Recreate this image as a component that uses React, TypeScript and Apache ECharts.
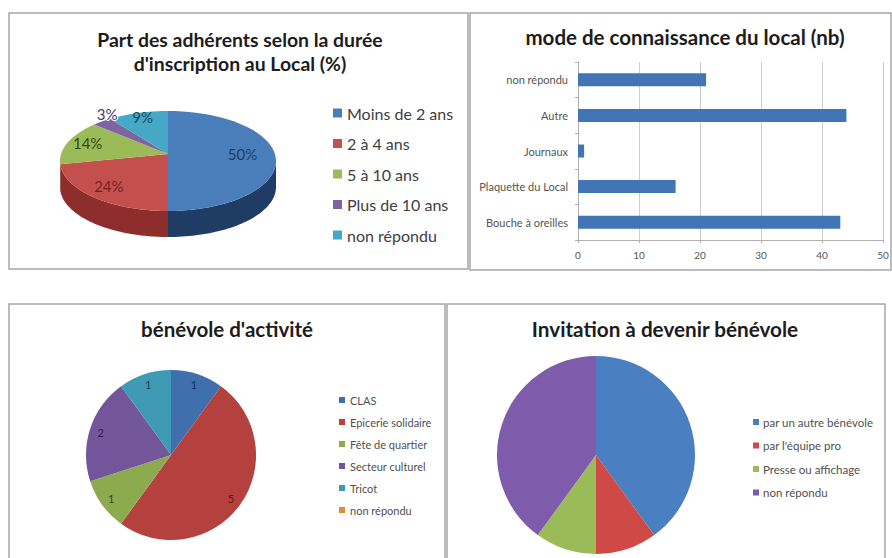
import React, { useEffect, useRef } from "react";
import * as echarts from "echarts";

const FONT = "Lato";

// Chart 1: 3D pie
const dureeTitle = "Part des adhérents selon la durée\nd'inscription au Local (%)";
const dureeNames = ["Moins de 2 ans", "2 à 4 ans", "5 à 10 ans", "Plus de 10 ans", "non répondu"];
const dureeValues = [50, 24, 14, 3, 9];
const dureeTop = ["#4a7ebb", "#c4504d", "#9bbb59", "#8064a2", "#45a8c6"];
const dureeSide = ["#1f3c64", "#8e2e2c", "#6f8a3a", "#553f74", "#2b7288"];
const dureeText = ["#1f3c64", "#7a1f1c", "#2f4a10", "#4b3570", "#14505f"];

// Chart 2: bars
const modeTitle = "mode de connaissance du local (nb)";
const modeCategories = ["Bouche à oreilles", "Plaquette du Local", "Journaux", "Autre", "non répondu"];
const modeValues = [43, 16, 1, 44, 21];

// Chart 3: pie
const activiteTitle = "bénévole d'activité";
const activiteNames = ["CLAS", "Epicerie solidaire", "Fête de quartier", "Secteur culturel", "Tricot", "non répondu"];
const activiteValues = [1, 5, 1, 2, 1, 0];
const activiteColors = ["#3f70ad", "#b5413e", "#8cab4f", "#72559a", "#3f9ab5", "#e08a3c"];
const activiteText = ["#12305a", "#5c1513", "#33480f", "#2f1c52", "#0f4352", "#7a4310"];

// Chart 4: pie
const invitationTitle = "Invitation à devenir bénévole";
const invitationNames = ["par un autre bénévole", "par l'équipe pro", "Presse ou affichage", "non répondu"];
const invitationValues = [4, 1, 1, 4];
const invitationColors = ["#4a7fc1", "#cf4a46", "#9bbb59", "#7f5bab"];

function legendFor(names: string[], colors: string[], left: number, top: number, size: number, gap: number, pad: number, color: string) {
  return {
    left, top, orient: "vertical", padding: 0, icon: "rect",
    itemWidth: size > 12 ? 9 : 6, itemHeight: size > 12 ? 9 : 6,
    itemGap: gap,
    selectedMode: false,
    textStyle: { fontFamily: FONT, fontSize: size, color, padding: [0, 0, 0, pad] },
    data: names.map((name, i) => ({ name, itemStyle: { color: colors[i] } })),
  };
}

function titleFor(text: string, left: number, top: number, size: number) {
  return {
    text, left, top, textAlign: "center", padding: 0,
    textStyle: { fontFamily: FONT, fontWeight: "bold", fontSize: size, color: "#1c1c1c", lineHeight: 24 },
  };
}

// slice of the flattened 3D pie, built from the value shares
const P3D = { cx: 168, cy: 161, apexY: 154, a: 108, b: 50, depth: 26 };
const labelFactor = [0.69, 0.8, 0.8, 0.92, 0.84];
const labelShift = [[0, -7], [0, -4], [0, -3], [0, -11], [0, -4]];

function renderSlice(index: number) {
  return (_params: any, api: any) => {
    const total = dureeValues.reduce((s, v) => s + v, 0);
    const before = dureeValues.slice(0, index).reduce((s, v) => s + v, 0);
    const start = (before / total) * Math.PI * 2;
    const end = ((before + api.value(0)) / total) * Math.PI * 2;
    const pt = (t: number, dy = 0) => [
      P3D.cx + P3D.a * Math.sin(t),
      P3D.cy - P3D.b * Math.cos(t) + dy,
    ];
    const steps = 48;
    const arc: number[][] = [];
    for (let i = 0; i <= steps; i++) arc.push(pt(start + ((end - start) * i) / steps));
    const children: any[] = [];
    // wall: only the front half of the rim shows
    const wStart = Math.max(start, Math.PI / 2);
    const wEnd = Math.min(end, (Math.PI * 3) / 2);
    if (wEnd > wStart) {
      const upper: number[][] = [];
      const lower: number[][] = [];
      for (let i = 0; i <= steps; i++) {
        const t = wStart + ((wEnd - wStart) * i) / steps;
        upper.push(pt(t));
        lower.unshift(pt(t, P3D.depth));
      }
      children.push({
        type: "polygon",
        shape: { points: upper.concat(lower) },
        style: { fill: dureeSide[index] },
      });
    }
    children.push({
      type: "polygon",
      shape: { points: [[P3D.cx, P3D.apexY], ...arc] },
      style: { fill: dureeTop[index] },
    });
    const mid = (start + end) / 2;
    const lx = P3D.cx + P3D.a * labelFactor[index] * Math.sin(mid) + labelShift[index][0];
    const ly = P3D.cy - P3D.b * labelFactor[index] * Math.cos(mid) + labelShift[index][1];
    children.push({
      type: "text",
      z2: 100,
      x: lx,
      y: ly,
      style: {
        text: api.value(0) + "%",
        align: "center",
        verticalAlign: "middle",
        fontFamily: FONT,
        fontSize: 15,
        fill: dureeText[index],
        stroke: index === 3 ? "#ffffff" : undefined,
        lineWidth: index === 3 ? 2 : 0,
      },
    });
    return { type: "group", children };
  };
}

function midAngle(values: number[], i: number) {
  const total = values.reduce((s, v) => s + v, 0);
  const before = values.slice(0, i).reduce((s, v) => s + v, 0);
  return ((before + values[i] / 2) / total) * Math.PI * 2;
}

function buildOption() {
  const frame = (x: number, y: number, width: number, height: number) => ({
    type: "rect", shape: { x, y, width, height },
    style: { fill: "#ffffff", stroke: "#a6a6a6", lineWidth: 1.5 }, silent: true,
  });
  const activiteR = 85;
  return {
    animation: false,
    backgroundColor: "#ffffff",
    graphic: [
      frame(9, 13, 459, 256),
      frame(470, 13, 421, 257),
      frame(9, 304, 436, 270),
      frame(447, 304, 438, 270),
    ],
    title: [
      titleFor(dureeTitle, 240, 27, 19.4),
      titleFor(modeTitle, 685, 25, 20.5),
      titleFor(activiteTitle, 227, 317, 20.5),
      titleFor(invitationTitle, 665, 317, 20.7),
    ],
    legend: [
      legendFor(dureeNames, dureeTop, 333, 105, 16, 14.5, 0, "#404040"),
      legendFor(activiteNames, activiteColors, 339, 394.5, 11, 11, 0, "#505050"),
      legendFor(invitationNames, invitationColors, 753, 416, 11.5, 11.5, -1, "#505050"),
    ],
    grid: { left: 578, right: 9, top: 62, bottom: 318, containLabel: false },
    xAxis: {
      type: "value", min: 0, max: 50, interval: 10,
      axisLine: { show: true, lineStyle: { color: "#b0b0b0" } },
      axisTick: { show: true, length: 3, lineStyle: { color: "#b0b0b0" } },
      splitLine: { show: true, lineStyle: { color: "#cfcfcf" } },
      axisLabel: { fontFamily: FONT, fontSize: 10, color: "#555555", margin: 10 },
    },
    yAxis: {
      type: "category", data: modeCategories,
      axisLine: { show: true, lineStyle: { color: "#b0b0b0" } },
      axisTick: { show: true, length: 3, lineStyle: { color: "#b0b0b0" } },
      axisLabel: { fontFamily: FONT, fontSize: 11, color: "#555555", margin: 10 },
    },
    series: [
      ...dureeNames.map((name, i) => ({
        type: "custom", name, coordinateSystem: "none", silent: true,
        itemStyle: { color: dureeTop[i] },
        data: [[dureeValues[i]]],
        renderItem: renderSlice(i),
      })),
      {
        type: "bar", data: modeValues, barWidth: 13, silent: true,
        itemStyle: { color: "#4275b6" },
      },
      {
        type: "pie", center: [171, 455], radius: [0, activiteR], startAngle: 90, silent: true,
        clockwise: true,
        data: activiteNames.map((name, i) => ({
          name, value: activiteValues[i],
          itemStyle: { color: activiteColors[i] },
          label: { color: activiteText[i] },
        })),
        label: {
          show: true, position: "inside", fontFamily: FONT, fontSize: 11,
          formatter: (p: any) => (p.value ? String(p.value) : ""),
        },
        labelLayout: (p: any) => {
          const t = midAngle(activiteValues, p.dataIndex);
          const d = 71 - activiteR / 2;
          return { dx: Math.sin(t) * d, dy: -Math.cos(t) * d };
        },
        labelLine: { show: false },
      },
      {
        type: "pie", center: [596, 455], radius: [0, 99], startAngle: 90, silent: true,
        data: invitationNames.map((name, i) => ({
          name, value: invitationValues[i], itemStyle: { color: invitationColors[i] },
        })),
        label: { show: false },
        labelLine: { show: false },
      },
    ],
  };
}

export default function App() {
  const ref = useRef<HTMLDivElement>(null);
  useEffect(() => {
    const chart = echarts.init(ref.current!, null, { renderer: "svg", width: 892, height: 558 });
    chart.setOption(buildOption() as any);
    return () => chart.dispose();
  }, []);
  return <div ref={ref} style={{ position: "fixed", left: 0, top: 0, width: 892, height: 558 }} />;
}
